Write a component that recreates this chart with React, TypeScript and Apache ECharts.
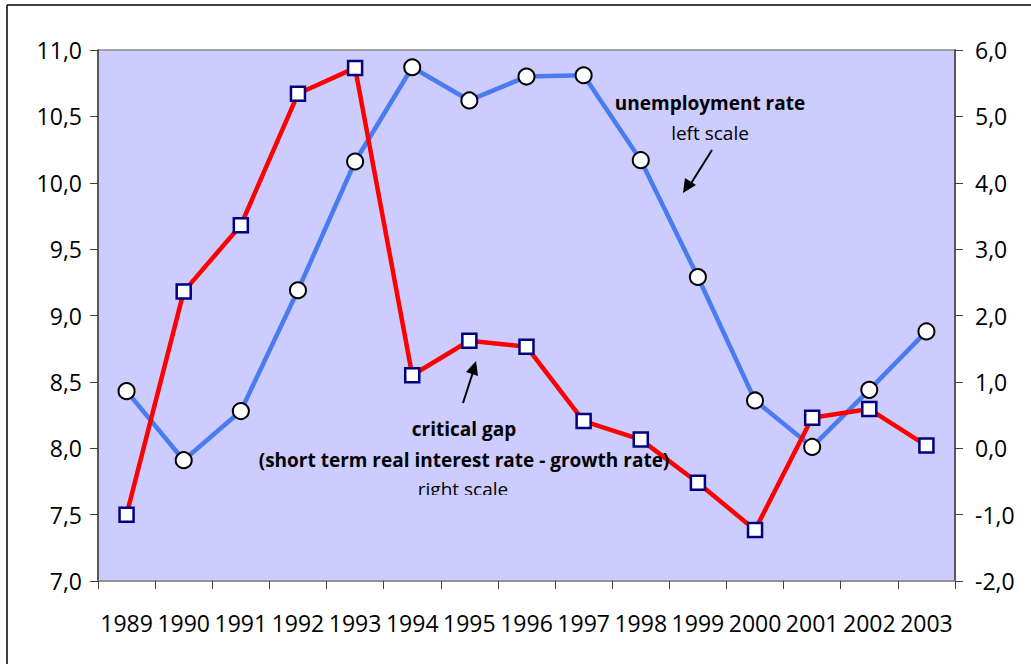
import React, { useEffect, useRef } from "react";
import * as echarts from "echarts";

const years = ["1989","1990","1991","1992","1993","1994","1995","1996","1997","1998","1999","2000","2001","2002","2003"];
const unemployment = [8.43, 7.91, 8.28, 9.19, 10.16, 10.87, 10.62, 10.80, 10.81, 10.17, 9.29, 8.36, 8.01, 8.44, 8.88];
const criticalGap = [-1.0, 2.36, 3.36, 5.34, 5.73, 1.10, 1.62, 1.53, 0.41, 0.13, -0.52, -1.23, 0.46, 0.59, 0.04];

const FONT = "Open Sans";
const fmt = (v: number) => v.toFixed(1).replace(".", ",");

export default function App() {
  const ref = useRef<HTMLDivElement>(null);
  useEffect(() => {
    document.body.style.margin = "0";
    const chart = echarts.init(ref.current!, null, { renderer: "svg" });
    const axisLine = { show: true, lineStyle: { color: "#404040", width: 1.5 } };
    chart.setOption({
      animation: false,
      backgroundColor: "#ffffff",
      textStyle: { fontFamily: FONT },
      grid: {
        left: 98, right: 76, top: 50, bottom: 83,
        show: true, backgroundColor: "#CCCCFF", borderColor: "#8c8c8c", borderWidth: 1.5,
      },
      xAxis: {
        type: "category",
        data: years,
        boundaryGap: true,
        axisLine: { show: true, onZero: false, lineStyle: { color: "#8c8c8c", width: 1.5 } },
        axisTick: { show: true, length: 8, lineStyle: { color: "#404040" }, interval: 0 },
        axisLabel: { interval: 0, color: "#000", fontSize: 23, fontFamily: FONT, margin: 30 },
      },
      yAxis: [
        {
          type: "value", min: 7, max: 11, interval: 0.5, position: "left",
          axisLine, splitLine: { show: false },
          axisTick: { show: true, length: 8, lineStyle: { color: "#404040" } },
          axisLabel: { color: "#000", fontSize: 23, fontFamily: FONT, margin: 16, formatter: fmt },
        },
        {
          type: "value", min: -2, max: 6, interval: 1, position: "right",
          axisLine, splitLine: { show: false },
          axisTick: { show: true, length: 8, lineStyle: { color: "#404040" } },
          axisLabel: { color: "#000", fontSize: 23, fontFamily: FONT, margin: 20, formatter: fmt },
        },
      ],
      series: [
        {
          name: "unemployment rate", type: "line", yAxisIndex: 0, data: unemployment,
          lineStyle: { color: "#4a7cf0", width: 4.5 },
          symbol: "circle", symbolSize: 16,
          itemStyle: { color: "#ffffff", borderColor: "#000000", borderWidth: 2 },
          z: 3,
        },
        {
          name: "critical gap", type: "line", yAxisIndex: 1, data: criticalGap,
          lineStyle: { color: "#ff0000", width: 4.5 },
          symbol: "rect", symbolSize: 14,
          itemStyle: { color: "#ffffff", borderColor: "#000080", borderWidth: 2.5 },
          z: 4,
        },
      ],
      graphic: [
        { type: "line", shape: { x1: 7, y1: 5, x2: 7, y2: 664 }, style: { stroke: "#000", lineWidth: 1.5 } },
        { type: "line", shape: { x1: 7, y1: 5, x2: 1031, y2: 5 }, style: { stroke: "#000", lineWidth: 1.5 } },
        { type: "text", x: 710, y: 103, style: { text: "unemployment rate", font: `bold 19px "${FONT}"`, fill: "#000", align: "center", verticalAlign: "middle" }, z: 10 },
        { type: "text", x: 710, y: 133, style: { text: "left scale", font: `19px "${FONT}"`, fill: "#000", align: "center", verticalAlign: "middle" }, z: 10 },
        { type: "line", shape: { x1: 712, y1: 150, x2: 690, y2: 185 }, style: { stroke: "#000", lineWidth: 2 }, z: 10 },
        { type: "polygon", shape: { points: [[683, 193], [685, 178], [696, 185]] }, style: { fill: "#000" }, z: 10 },
        { type: "line", shape: { x1: 463, y1: 403, x2: 473, y2: 372 }, style: { stroke: "#000", lineWidth: 2 }, z: 10 },
        { type: "polygon", shape: { points: [[476, 361], [478, 376], [466, 372]] }, style: { fill: "#000" }, z: 10 },
        { type: "text", x: 464, y: 429, style: { text: "critical gap", font: `bold 19px "${FONT}"`, fill: "#000", align: "center", verticalAlign: "middle" }, z: 10 },
        { type: "text", x: 464, y: 460, style: { text: "(short term real interest rate - growth rate)", font: `bold 19px "${FONT}"`, fill: "#000", align: "center", verticalAlign: "middle" }, z: 10 },
        { type: "text", x: 463, y: 489, style: { text: "right scale", font: `19px "${FONT}"`, fill: "#000", align: "center", verticalAlign: "middle" }, z: 10 },
        { type: "rect", shape: { x: 405, y: 495, width: 120, height: 12 }, style: { fill: "#CCCCFF" }, z: 11 },
      ],
    });
    return () => chart.dispose();
  }, []);
  return <div ref={ref} style={{ width: 1031, height: 664 }} />;
}
